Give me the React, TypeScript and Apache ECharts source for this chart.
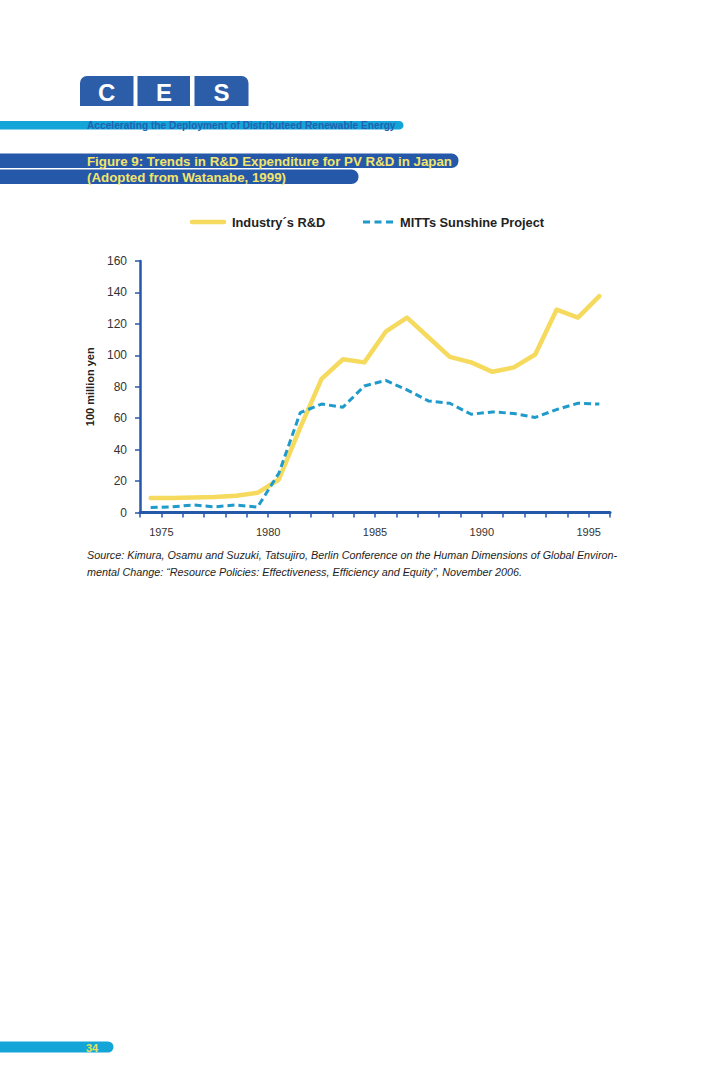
import React, { useEffect, useRef } from "react";
import * as echarts from "echarts";

const years = [1974, 1975, 1976, 1977, 1978, 1979, 1980, 1981, 1982, 1983, 1984, 1985, 1986, 1987, 1988, 1989, 1990, 1991, 1992, 1993, 1994, 1995];
const industryRD = [9.2, 9.3, 9.5, 9.8, 10.7, 12.5, 21, 54, 85, 97.5, 95.5, 115, 124, 111.5, 99, 95.5, 89.5, 92.3, 100.5, 129, 124, 137.7];
const mittsSunshine = [3.2, 3.6, 4.8, 3.6, 4.8, 3.4, 25, 63.5, 69, 67, 80.5, 84, 78, 71, 69.5, 62.5, 64, 63, 60.5, 65.5, 69.5, 69];
const seriesNames = ["Industry´s R&D", "MITTs Sunshine Project"];
const xLabelYears = [1975, 1980, 1985, 1990, 1995];

const FONT = "'Liberation Sans', Arial, Helvetica, sans-serif";
const DARK_BLUE = "#2558a8";
const CYAN = "#14a5d8";
const TITLE_YELLOW = "#f3e46a";
const YELLOW = "#f6da5e";
const BLUE = "#1e9acb";

export default function App() {
  const ref = useRef<HTMLDivElement>(null);
  useEffect(() => {
    if (!ref.current) return;
    const chart = echarts.init(ref.current, undefined, { renderer: "svg" });
    const toPoints = (vals: number[]) => years.map((y, i) => [y + 0.5, vals[i]]);
    const txt = (text: string, x: number, y: number, font: string, fill: string, align = "left") => ({
      type: "text",
      x,
      y,
      style: { text, font, fill, textAlign: align, textVerticalAlign: "middle" },
    });
    chart.setOption({
      animation: false,
      backgroundColor: "#ffffff",
      textStyle: { fontFamily: FONT },
      grid: { left: 140, top: 261, width: 470, height: 251.5 },
      xAxis: {
        type: "value",
        min: 1974,
        max: 1996,
        interval: 1,
        splitLine: { show: false },
        axisLine: { show: true, lineStyle: { color: DARK_BLUE, width: 3 } },
        axisTick: { show: true, length: 5, lineStyle: { color: DARK_BLUE, width: 1.5 } },
        axisLabel: {
          margin: 14,
          fontSize: 11,
          color: "#333",
          fontFamily: FONT,
          showMinLabel: true,
          showMaxLabel: true,
          formatter: (v: number) => (xLabelYears.indexOf(v) >= 0 ? String(v) : ""),
        },
      },
      yAxis: {
        type: "value",
        min: 0,
        max: 160,
        interval: 20,
        name: "100 million yen",
        nameLocation: "middle",
        nameRotate: 90,
        nameGap: 45,
        nameTextStyle: { fontFamily: FONT, fontSize: 11, fontWeight: "bold", color: "#222" },
        splitLine: { show: false },
        axisLine: { show: true, lineStyle: { color: DARK_BLUE, width: 2.5 } },
        axisTick: { show: true, length: 5, lineStyle: { color: DARK_BLUE, width: 1.5 } },
        axisLabel: { margin: 13, fontSize: 12, color: "#333", fontFamily: FONT },
      },
      series: [
        {
          name: seriesNames[0],
          type: "line",
          data: toPoints(industryRD),
          symbol: "none",
          lineStyle: { color: YELLOW, width: 4.5, join: "round", cap: "round" },
          itemStyle: { color: YELLOW },
          z: 2,
        },
        {
          name: seriesNames[1],
          type: "line",
          data: toPoints(mittsSunshine),
          symbol: "none",
          lineStyle: { color: BLUE, width: 3, type: [7, 4] },
          itemStyle: { color: BLUE },
          z: 3,
        },
      ],
      graphic: [
        { type: "rect", shape: { x: 80, y: 76, width: 53.5, height: 30, r: [7, 0, 0, 0] }, style: { fill: "#2c5da9" } },
        { type: "rect", shape: { x: 137.5, y: 76, width: 52.5, height: 30, r: 0 }, style: { fill: "#2c5da9" } },
        { type: "rect", shape: { x: 194.5, y: 76, width: 54, height: 30, r: [0, 7, 0, 0] }, style: { fill: "#2c5da9" } },
        txt("C", 106.7, 92, `bold 24px ${FONT}`, "#ffffff", "center"),
        txt("E", 164, 92, `bold 24px ${FONT}`, "#ffffff", "center"),
        txt("S", 221.5, 92, `bold 24px ${FONT}`, "#ffffff", "center"),
        { type: "rect", shape: { x: -10, y: 121, width: 413.5, height: 8.5, r: 4.25 }, style: { fill: CYAN } },
        txt("Accelerating the Deployment of Distributeed Renewable Energy", 87, 125.5, `bold 10.2px ${FONT}`, "#2460b0"),
        { type: "rect", shape: { x: -10, y: 153.5, width: 468.5, height: 14.5, r: 7 }, style: { fill: DARK_BLUE } },
        txt("Figure 9: Trends in R&D Expenditure for PV R&D in Japan", 87, 161, `bold 13.3px ${FONT}`, TITLE_YELLOW),
        { type: "rect", shape: { x: -10, y: 169.5, width: 368.5, height: 14.5, r: 7 }, style: { fill: DARK_BLUE } },
        txt("(Adopted from Watanabe, 1999)", 87, 177, `bold 13.3px ${FONT}`, TITLE_YELLOW),
        // legend
        { type: "line", shape: { x1: 192, y1: 222, x2: 224, y2: 222 }, style: { stroke: YELLOW, lineWidth: 4.5, lineCap: "round" } },
        txt(seriesNames[0], 232, 222.5, `bold 12.8px ${FONT}`, "#222"),
        { type: "line", shape: { x1: 363, y1: 222, x2: 393, y2: 222 }, style: { stroke: BLUE, lineWidth: 3, lineDash: [7, 4.5] } },
        txt(seriesNames[1], 400, 222.5, `bold 12.8px ${FONT}`, "#222"),
        txt(
          "Source: Kimura, Osamu and Suzuki, Tatsujiro, Berlin Conference on the Human Dimensions of Global Environ-",
          87,
          555,
          `italic 10.8px ${FONT}`,
          "#1e1e1e"
        ),
        txt(
          "mental Change: “Resource Policies: Effectiveness, Efficiency and Equity”, November 2006.",
          87,
          572,
          `italic 10.8px ${FONT}`,
          "#1e1e1e"
        ),
        { type: "rect", shape: { x: -10, y: 1041.5, width: 123.5, height: 11, r: 5.5 }, style: { fill: CYAN } },
        txt("34", 92, 1047.5, `bold 11px ${FONT}`, "#e2e35c", "center"),
      ],
    });
    return () => chart.dispose();
  }, []);
  return <div ref={ref} style={{ position: "absolute", left: 0, top: 0, width: 728, height: 1092 }} />;
}
